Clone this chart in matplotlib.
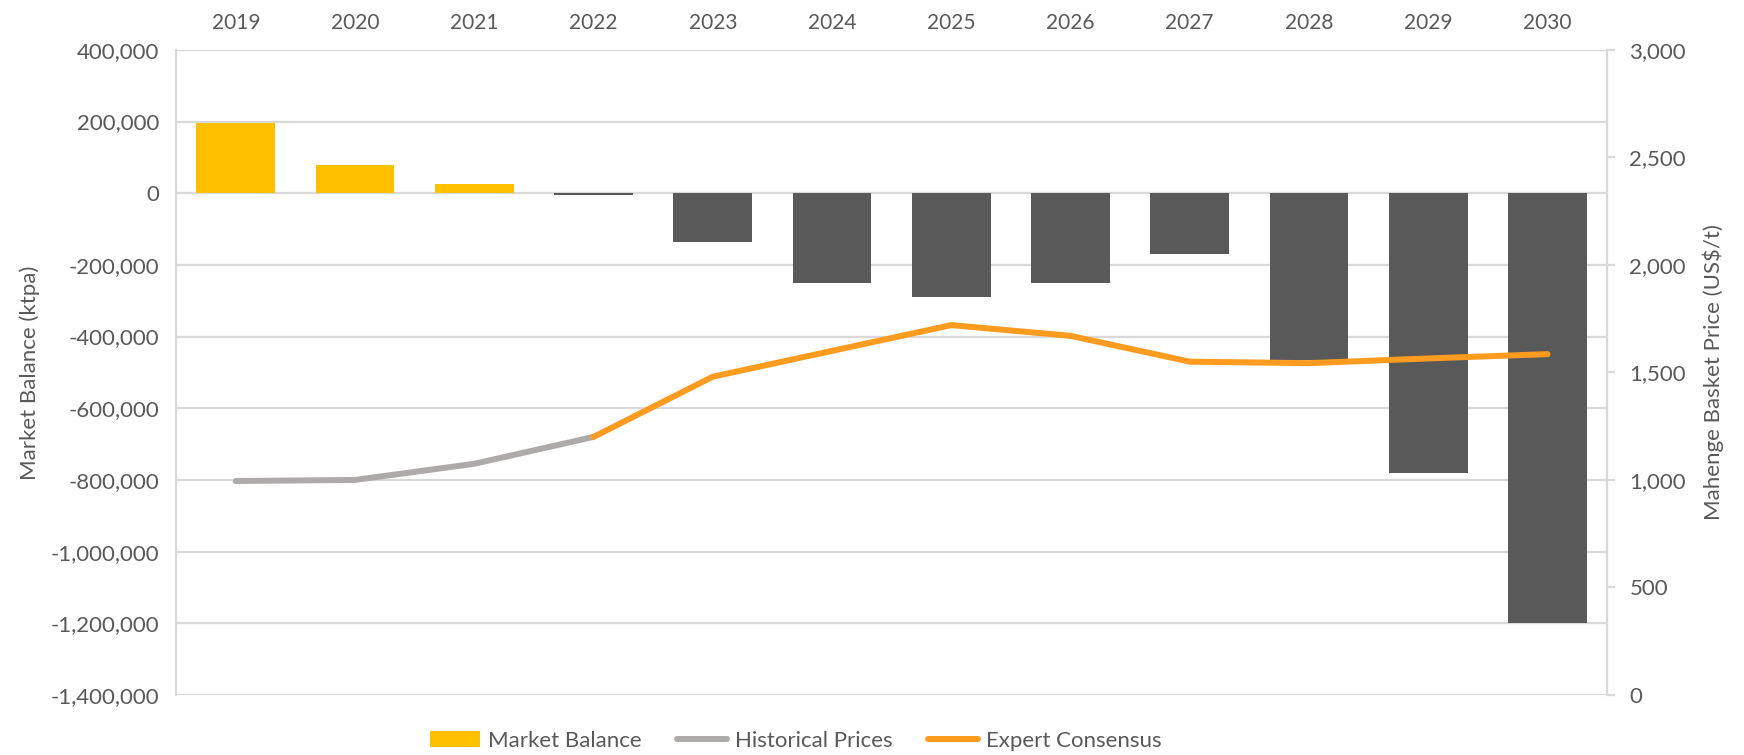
import matplotlib
matplotlib.use("Agg")
import matplotlib.pyplot as plt
from matplotlib.patches import Patch
from matplotlib.lines import Line2D
from matplotlib.ticker import FuncFormatter, MultipleLocator

years = ["2019", "2020", "2021", "2022", "2023", "2024", "2025", "2026", "2027", "2028", "2029", "2030"]
market_balance = [195000, 78000, 27000, -5000, -135000, -250000, -290000, -250000, -170000, -465000, -780000, -1200000]
hist_years = ["2019", "2020", "2021", "2022"]
hist_prices = [995, 1000, 1075, 1200]
cons_years = ["2022", "2023", "2024", "2025", "2026", "2027", "2028", "2029", "2030"]
cons_prices = [1200, 1480, 1600, 1720, 1670, 1550, 1543, 1565, 1585]

plt.rcParams['font.family'] = ['Lato', 'DejaVu Sans']
TXT = "#595959"
YEL = "#FFC000"
DARK = "#595959"
GRAYL = "#AEAAAA"
ORA = "#FF9B1F"
GRID = "#D9D9D9"

fig = plt.figure(figsize=(17.44, 7.55), dpi=100)
ax = fig.add_axes([0.101, 0.0795, 0.8205, 0.8545])
x = list(range(len(years)))
colors = [YEL if v >= 0 else DARK for v in market_balance]
ax.bar(x, market_balance, width=0.66, color=colors, zorder=2)
ax.set_xlim(-0.5, len(years) - 0.5)
ax.set_ylim(-1400000, 400000)
ax.yaxis.set_major_locator(MultipleLocator(200000))
ax.yaxis.set_major_formatter(FuncFormatter(lambda v, p: f"{int(v):,}"))
ax.grid(axis='y', color=GRID, linewidth=1.6, zorder=0)
ax.set_axisbelow(True)
ax.xaxis.tick_top()
ax.set_xticks(x)
ax.set_xticklabels(years)
ax.tick_params(axis='x', length=0, pad=12, labelsize=15, labelcolor=TXT)
ax.tick_params(axis='y', length=0, pad=12, labelsize=16, labelcolor=TXT)
for s in ['top', 'right', 'bottom']:
    ax.spines[s].set_visible(False)
ax.spines['left'].set_color(GRID)
ax.spines['left'].set_linewidth(1.6)
ax.set_ylabel("Market Balance (ktpa)", fontsize=16, color=TXT, labelpad=8)

ax2 = ax.twinx()
ax2.plot([years.index(y) for y in hist_years], hist_prices, color=GRAYL, linewidth=4.3, solid_capstyle='round', zorder=3)
ax2.plot([years.index(y) for y in cons_years], cons_prices, color=ORA, linewidth=4.3, solid_capstyle='round', zorder=3)
ax2.set_ylim(0, 3000)
ax2.yaxis.set_major_locator(MultipleLocator(500))
ax2.yaxis.set_major_formatter(FuncFormatter(lambda v, p: f"{int(v):,}"))
ax2.tick_params(axis='y', length=6, width=1.6, color=GRID, pad=10, labelsize=16, labelcolor=TXT)
for s in ['top', 'left', 'bottom']:
    ax2.spines[s].set_visible(False)
ax2.spines['right'].set_color(GRID)
ax2.spines['right'].set_linewidth(1.6)
ax2.set_ylabel("Mahenge Basket Price (US$/t)", fontsize=16, color=TXT, labelpad=12)

handles = [Patch(facecolor=YEL, edgecolor='none'),
           Line2D([0], [0], color=GRAYL, linewidth=4.3, solid_capstyle='round'),
           Line2D([0], [0], color=ORA, linewidth=4.3, solid_capstyle='round')]
fig.legend(handles, ["Market Balance", "Historical Prices", "Expert Consensus"],
           loc='center', bbox_to_anchor=(0.4564, 0.019), ncol=3, frameon=False,
           fontsize=16, labelcolor=TXT, handlelength=2.25, handletextpad=0.36, columnspacing=1.6)

fig.savefig("out.png", dpi=100)
